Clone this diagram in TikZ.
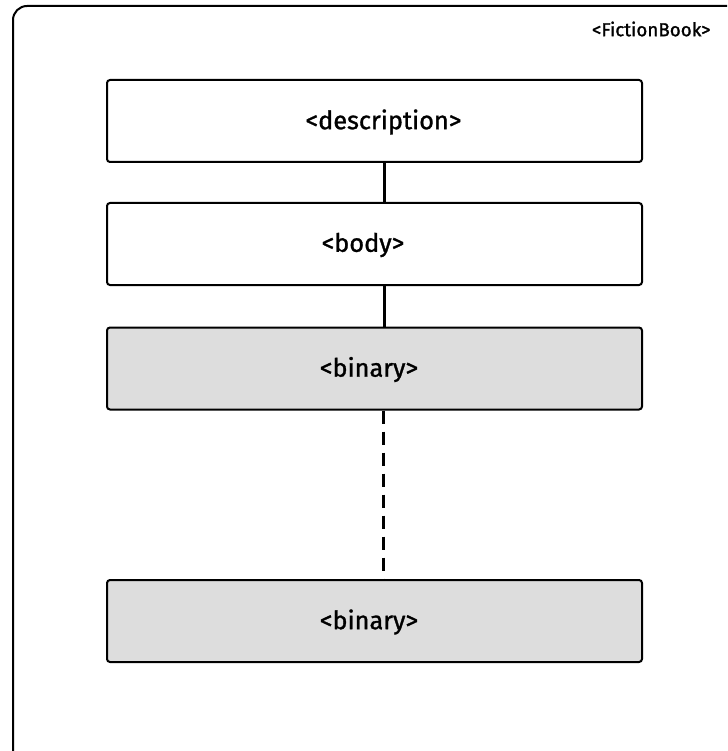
\documentclass[tikz,border=0pt]{standalone}
\usepackage{fontspec}
\setmainfont{Fira Sans}
\newfontfamily\tagfont{Fira Sans}[FakeBold=1.2]
\definecolor{tagfill}{HTML}{DDDDDD}
\begin{document}
\begin{tikzpicture}[x=1pt,y=-1pt,
  tagbox/.style={draw=black, line width=2pt, rounded corners=3pt,
    minimum width=535pt, minimum height=82pt, inner sep=0pt},
  plainbox/.style={tagbox, fill=white},
  greybox/.style={tagbox, fill=tagfill},
  tagtext/.style={inner sep=0pt,
    font=\tagfont\fontsize{25.3}{30}\selectfont},
  link/.style={line width=3pt},
  gaplink/.style={line width=3pt, dash pattern=on 13pt off 8pt}]
\useasboundingbox (0,0) rectangle (727,751);
\begin{scope}
\clip (0,0) rectangle (727,751);
\draw[line width=2pt, rounded corners=14pt] (13,6) rectangle (760,790);
\end{scope}
\node[font=\tagfont\fontsize{18.8}{22}\selectfont, anchor=east] (root) at (714,29) {<FictionBook>};
% element boxes
\node[plainbox] (desc) at (374.5,121) {};
\node[plainbox] (body) at (374.5,244) {};
\node[greybox] (bin1) at (374.5,368.5) {};
\node[greybox] (bin2) at (374.5,621) {};
% element names
\node[tagtext] (descname) at (383.5,122) {<description>};
\node[tagtext] (bodyname) at (363,245) {<body>};
\node[tagtext] (bin1name) at (369,369.5) {<binary>};
\node[tagtext] (bin2name) at (369,622) {<binary>};
% links between elements
\draw[link] (desc.south -| 384,0) -- (body.north -| 384,0);
\draw[link] (body.south -| 384,0) -- (bin1.north -| 384,0);
\draw[gaplink] (bin1.south -| 383,0) -- (bin2.north -| 383,0);
\end{tikzpicture}
\end{document}
